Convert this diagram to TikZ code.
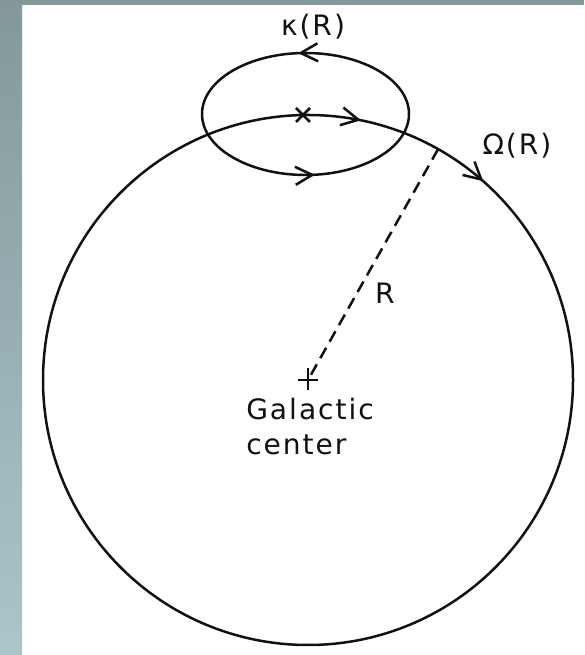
\documentclass[tikz,border=0pt]{standalone}
\usepackage{fontspec}
\newfontfamily\lblfont{DejaVu Sans}[LetterSpace=7]
\usetikzlibrary{arrows.meta,decorations.markings,calc}
\definecolor{frameTop}{HTML}{84989B}
\definecolor{frameBot}{HTML}{AAC6CA}
\definecolor{inkBlack}{HTML}{111111}

\begin{document}
\begin{tikzpicture}[
  x=0.2mm, y=0.2mm,
  font=\lblfont\fontsize{16}{20}\selectfont,
  line width=0.5mm,
  >={Straight Barb[length=3.4mm,width=3.6mm]},
  % --- Reusable styles -------------------------------------------------------
  orbit/.style={draw=inkBlack},                 % circle and epicycle
  radius line/.style={draw=inkBlack, dash pattern=on 2.4mm off 1.4mm},
  lbl/.style={text=inkBlack},
]

% --- Frame strips --------------------------------------------------------------
\useasboundingbox (0,0) rectangle (584,655);
\shade[top color=frameTop, bottom color=frameBot] (0,0) rectangle (22,655);
\fill[frameTop] (22,650) rectangle (584,655);

% --- Points --------------------------------------------------------------------
\coordinate (gc)   at (308,275);                % galactic center
\coordinate (epi)  at (305.5,541);              % epicycle center
\coordinate (star) at (303,540);                % guiding center
\coordinate (rim)  at ($(gc)+(60.6:265)$);

% --- Galactic orbit, clockwise ---------------------------------------------------
\draw[orbit, postaction={decorate}, decoration={markings,
    mark=at position 0.032 with {\arrow{>}},
    mark=at position 0.115 with {\arrow{>}}}]
  ($(gc)+(90:265)$) arc[start angle=90, end angle=-270, radius=265];

% --- Epicycle, counterclockwise --------------------------------------------------
\draw[orbit, postaction={decorate}, decoration={markings,
    mark=at position 0.264 with {\arrow{>}},
    mark=at position 0.768 with {\arrow{>}}}]
  ($(epi)+(103.5,0)$) arc[start angle=0, end angle=360, x radius=103.5, y radius=61];

% --- Marks -----------------------------------------------------------------------
\draw[orbit] ($(star)+(-7,-7)$) -- ($(star)+(7,7)$)
             ($(star)+(-7,7)$) -- ($(star)+(7,-7)$);
\draw[orbit] ($(gc)+(-10,0)$) -- ($(gc)+(10,0)$)
             ($(gc)+(0,-10)$) -- ($(gc)+(0,12)$);
\draw[radius line] (rim) -- (gc);

% --- Labels ----------------------------------------------------------------------
\node[lbl] (kappa) at (313,628) {κ(R)};
\node[lbl] (omega) at (517,509) {Ω(R)};
\node[lbl] (rlbl)  at (385,362) {R};
\node[lbl, align=left, anchor=north west, inner sep=0pt] (gclbl) at (245,258)
  {Galactic\\center};

\end{tikzpicture}
\end{document}
